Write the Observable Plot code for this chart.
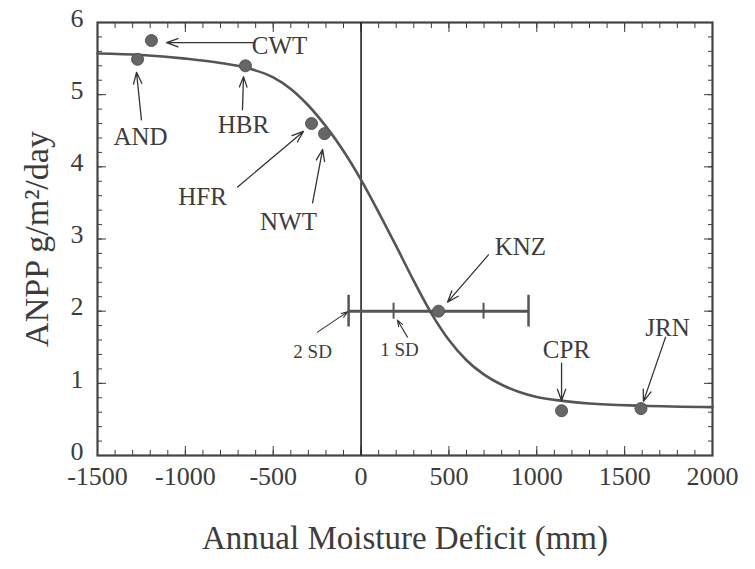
<!DOCTYPE html>
<html>
<head>
<meta charset="utf-8">
<script src="https://cdn.jsdelivr.net/npm/d3@7"></script>
<script src="https://cdn.jsdelivr.net/npm/@observablehq/plot@0.6"></script>
<style>
  html, body { margin: 0; padding: 0; background: #fff; }
  #chart svg { display: block; }
</style>
</head>
<body>
<div id="chart"></div>
<script>
// Sites (points)
const siteNames = ["CWT", "AND", "HBR", "HFR", "NWT", "KNZ", "CPR", "JRN"];
const siteDeficit = [-1193, -1272, -658, -282, -208, 441, 1141, 1593];
const siteANPP = [5.75, 5.49, 5.40, 4.60, 4.46, 2.00, 0.62, 0.65];

// Fitted curve
const curveX = [-1500, -1250, -1000, -800, -650, -500, -400, -300, -200, -100, 0, 100, 200, 300, 400, 500, 600, 700, 800, 900, 1000, 1135, 1300, 1600, 2000];
const curveY = [5.57, 5.55, 5.50, 5.44, 5.37, 5.24, 5.08, 4.85, 4.56, 4.22, 3.82, 3.37, 2.90, 2.42, 1.97, 1.60, 1.32, 1.12, 0.98, 0.88, 0.81, 0.76, 0.72, 0.69, 0.67];

// KNZ standard deviation bar
const knzMean = 441;
const knzSD = 256;
const knzLevel = 2.0;

// Label annotations (data coordinates)
const labelText = ["CWT", "AND", "HBR", "HFR", "NWT", "KNZ", "CPR", "JRN"];
const labelX = [-464, -1255, -669, -902, -413, 907, 1169, 1744];
const labelY = [5.67, 4.42, 4.58, 3.58, 3.24, 2.89, 1.46, 1.76];
const arrowX1 = [-606, -1250, -675, -703, -276, 725, 1141, 1733];
const arrowY1 = [5.72, 4.65, 4.79, 3.72, 3.50, 2.78, 1.28, 1.64];
const arrowX2 = [-1107, -1278, -669, -328, -219, 492, 1141, 1607];
const arrowY2 = [5.72, 5.31, 5.25, 4.49, 4.24, 2.125, 0.76, 0.75];

const sdText = ["2 SD", "1 SD"];
const sdLabelX = [-276, 219];
const sdLabelY = [1.43, 1.46];
const sdArrowX1 = [-248, 264];
const sdArrowY1 = [1.71, 1.64];
const sdArrowX2 = [-77, 207];
const sdArrowY2 = [1.99, 1.875];

const xMajor = [-1500, -1000, -500, 0, 500, 1000, 1500, 2000];
const xMinor = d3.range(-1500, 2001, 100);
const yMajor = [0, 1, 2, 3, 4, 5, 6];
const yMinor = d3.range(0, 6.01, 0.2);

const curve = curveX.map((x, i) => ({x, y: curveY[i]}));
const sites = siteNames.map((n, i) => ({name: n, x: siteDeficit[i], y: siteANPP[i]}));
const labels = labelText.map((t, i) => ({t, x: labelX[i], y: labelY[i], x1: arrowX1[i], y1: arrowY1[i], x2: arrowX2[i], y2: arrowY2[i]}));
const sdLabels = sdText.map((t, i) => ({t, x: sdLabelX[i], y: sdLabelY[i], x1: sdArrowX1[i], y1: sdArrowY1[i], x2: sdArrowX2[i], y2: sdArrowY2[i]}));
const capsOuter = [knzMean - 2 * knzSD, knzMean + 2 * knzSD];
const capsInner = [knzMean - knzSD, knzMean + knzSD];

const ink = "#3c3c3c";
const lineInk = "#555";
const fmt = d => String(d);
const serif = "Liberation Serif";

const chart = Plot.plot({
  width: 755,
  height: 569,
  marginLeft: 97,
  marginRight: 43,
  marginTop: 22,
  marginBottom: 114,
  style: {color: ink, background: "#fff", fontFamily: serif},
  x: {domain: [-1500, 2000]},
  y: {domain: [0, 6]},
  marks: [
    // ticks (inward) on all four sides
    Plot.axisX(xMinor, {anchor: "bottom", tickSize: -5, text: null, stroke: ink}),
    Plot.axisX(xMajor, {anchor: "bottom", tickSize: -9, text: null, stroke: ink}),
    Plot.axisX(xMinor, {anchor: "top", tickSize: -5, text: null, stroke: ink}),
    Plot.axisX(xMajor, {anchor: "top", tickSize: -9, text: null, stroke: ink}),
    Plot.axisY(yMinor, {anchor: "left", tickSize: -5, text: null, stroke: ink}),
    Plot.axisY(yMajor, {anchor: "left", tickSize: -9, text: null, stroke: ink}),
    Plot.axisY(yMinor, {anchor: "right", tickSize: -5, text: null, stroke: ink}),
    Plot.axisY(yMajor, {anchor: "right", tickSize: -9, text: null, stroke: ink}),
    // tick labels
    Plot.axisX(xMajor, {anchor: "bottom", tickSize: 0, tickPadding: 11, tickFormat: fmt, fontSize: 26, fill: ink, label: null}),
    Plot.axisY(yMajor, {anchor: "left", tickSize: 0, tickPadding: 14, tickFormat: fmt, fontSize: 26, fill: ink, label: null, dy: -4}),
    Plot.frame({stroke: "#444", strokeWidth: 2.2}),
    Plot.ruleX([0], {stroke: "#222", strokeWidth: 1.6}),
    // SD bar
    Plot.link([0], {x1: capsOuter[0], x2: capsOuter[1], y1: knzLevel, y2: knzLevel, stroke: lineInk, strokeWidth: 3}),
    Plot.ruleX(capsOuter, {x: d => d, y1: knzLevel - 0.22, y2: knzLevel + 0.22, stroke: lineInk, strokeWidth: 2.5}),
    Plot.ruleX(capsInner, {x: d => d, y1: knzLevel - 0.11, y2: knzLevel + 0.11, stroke: lineInk, strokeWidth: 2}),
    // fitted curve
    Plot.line(curve, {x: "x", y: "y", curve: "monotone-x", stroke: lineInk, strokeWidth: 2.6}),
    // sites
    Plot.dot(sites, {x: "x", y: "y", r: 6, fill: "#666", stroke: "#555", strokeWidth: 1}),
    // arrows and labels
    Plot.arrow(labels, {x1: "x1", y1: "y1", x2: "x2", y2: "y2", stroke: "#333", strokeWidth: 1.3, headAngle: 40, headLength: 14}),
    Plot.text(labels, {x: "x", y: "y", text: "t", fontSize: 25, fill: ink}),
    Plot.arrow(sdLabels, {x1: "x1", y1: "y1", x2: "x2", y2: "y2", stroke: "#333", strokeWidth: 1.1, headAngle: 40, headLength: 9}),
    Plot.text(sdLabels, {x: "x", y: "y", text: "t", fontSize: 19, fill: ink}),
    // axis titles
    Plot.text(["Annual Moisture Deficit (mm)"], {frameAnchor: "bottom", dy: 93, fontSize: 33, fill: ink}),
    Plot.text(["ANPP g/m²/day"], {frameAnchor: "left", textAnchor: "middle", rotate: -90, dx: -60, dy: 0, fontSize: 34, fill: ink})
  ]
});
document.getElementById("chart").appendChild(chart);
</script>
</body>
</html>
